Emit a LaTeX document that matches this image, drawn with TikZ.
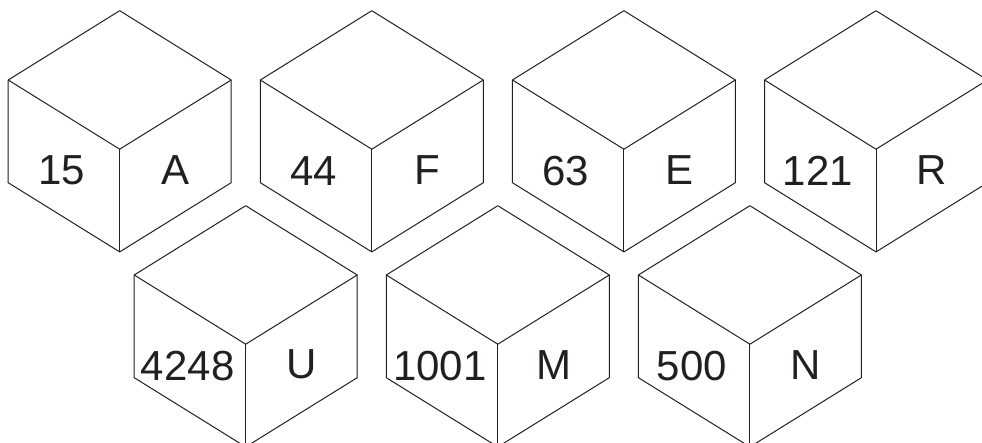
\documentclass[tikz,border=0pt]{standalone}
\usepackage{fontspec}
\setmainfont{Liberation Sans}
\usepackage{xcolor}
\definecolor{cLine}{HTML}{231F20}
\usetikzlibrary{calc}
\tikzset{
  cube-edge/.style={draw=cLine,line width=1pt,line join=round},
  cube-num/.style={font=\fontsize{42}{50}\selectfont,text=cLine,inner sep=0pt},
  cube-chr/.style={cube-num},
}

\begin{document}
\begin{tikzpicture}[x=1pt,y=-1pt]
  \useasboundingbox (0,0) rectangle (982,443);
  \clip (0,0) rectangle (982,443);
  % top row, then bottom row (shifted by half a step)
  \foreach \cx/\ty/\nb/\chr/\id in {119.7/10.7/15/A/qa, 371.8/10.7/44/F/qf,
      623.9/10.7/63/E/qe, 876/10.7/121/R/qr,
      245.7/205.7/4248/U/qu, 497.8/205.7/1001/M/qm, 749.9/205.7/500/N/qn}{
    \coordinate (\id-t)  at (\cx,\ty);
    \coordinate (\id-l)  at (\cx-111.5,\ty+69.3);
    \coordinate (\id-r)  at (\cx+111.5,\ty+69.3);
    \coordinate (\id-c)  at (\cx,\ty+138.5);
    \coordinate (\id-bl) at (\cx-111.5,\ty+172);
    \coordinate (\id-br) at (\cx+111.5,\ty+172);
    \coordinate (\id-b)  at (\cx,\ty+241.2);
    \draw[cube-edge] (\id-t) -- (\id-r) -- (\id-br) -- (\id-b) -- (\id-bl)
      -- (\id-l) -- cycle;
    \draw[cube-edge] (\id-l) -- (\id-c) -- (\id-r);
    \draw[cube-edge] (\id-c) -- (\id-b);
    \node[cube-num] (\id-num) at (\cx-58,\ty+160) {\nb};
    \node[cube-chr] (\id-chr) at (\cx+56,\ty+159) {\chr};
  }
\end{tikzpicture}
\end{document}
